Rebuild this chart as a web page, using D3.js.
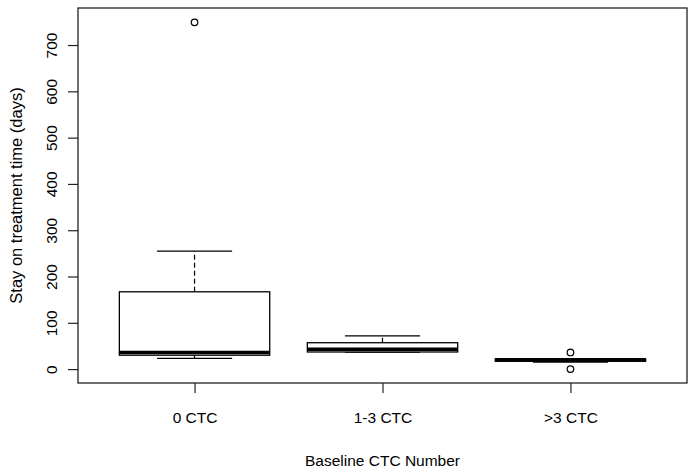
<!DOCTYPE html>
<html>
<head>
<meta charset="utf-8">
<script src="https://cdn.jsdelivr.net/npm/d3@7"></script>
<style>
  html, body { margin: 0; padding: 0; background: #fff; }
  text { font-family: "Liberation Sans", Arial, sans-serif; fill: #000; }
</style>
</head>
<body>
<svg id="chart" width="696" height="473"></svg>
<script>
const categories = ["0 CTC", "1-3 CTC", ">3 CTC"];
const lowerWhisker = [23, 37, 15];
const q1 = [30, 37, 17];
const median = [36, 43, 20];
const q3 = [167, 57, 22];
const upperWhisker = [255, 72, 22];
const outliers = [[749], [], [36, 0]];
const yTicks = [0, 100, 200, 300, 400, 500, 600, 700];
const xTitle = "Baseline CTC Number";
const yTitle = "Stay on treatment time (days)";

const svg = d3.select("#chart");
const pLeft = 78, pRight = 687, pTop = 8, pBottom = 383;

const x = d3.scaleLinear().domain([0.38, 3.62]).range([pLeft, pRight]);
const y = d3.scaleLinear().domain([-30, 780]).range([pBottom, pTop]);

const boxW = x(1.8) - x(1);
const stapleW = boxW / 2;

categories.forEach((c, i) => {
  const cx = x(i + 1);
  const g = svg.append("g");
  g.append("line").attr("x1", cx).attr("x2", cx)
    .attr("y1", y(q3[i])).attr("y2", y(upperWhisker[i]))
    .attr("stroke", "#000").attr("stroke-width", 1.2).attr("stroke-dasharray", "5,3");
  g.append("line").attr("x1", cx).attr("x2", cx)
    .attr("y1", y(q1[i])).attr("y2", y(lowerWhisker[i]))
    .attr("stroke", "#000").attr("stroke-width", 1.2).attr("stroke-dasharray", "5,3");
  [upperWhisker[i], lowerWhisker[i]].forEach(v => {
    g.append("line").attr("x1", cx - stapleW / 2).attr("x2", cx + stapleW / 2)
      .attr("y1", y(v)).attr("y2", y(v))
      .attr("stroke", "#000").attr("stroke-width", 1.3);
  });
  g.append("rect").attr("x", cx - boxW / 2).attr("width", boxW)
    .attr("y", y(q3[i])).attr("height", Math.max(0, y(q1[i]) - y(q3[i])))
    .attr("fill", "#fff").attr("stroke", "#000").attr("stroke-width", 1.3);
  g.append("line").attr("x1", cx - boxW / 2).attr("x2", cx + boxW / 2)
    .attr("y1", y(median[i])).attr("y2", y(median[i]))
    .attr("stroke", "#000").attr("stroke-width", 3.6);
  outliers[i].forEach(v => {
    g.append("circle").attr("cx", cx).attr("cy", y(v)).attr("r", 3.3)
      .attr("fill", "none").attr("stroke", "#000").attr("stroke-width", 1.2);
  });
});

svg.append("rect").attr("x", pLeft).attr("y", pTop).attr("width", pRight - pLeft).attr("height", pBottom - pTop)
  .attr("fill", "none").attr("stroke", "#222").attr("stroke-width", 1.3);

const yAxis = d3.axisLeft(y).tickValues(yTicks).tickSize(10).tickPadding(5).tickFormat(d3.format("d"));
const ya = svg.append("g").attr("transform", `translate(${pLeft},0)`).call(yAxis);
ya.select(".domain").remove();
ya.selectAll(".tick line").attr("stroke", "#222").attr("stroke-width", 1.2);
ya.selectAll(".tick text")
  .attr("font-size", 15.5)
  .attr("x", null).attr("dy", null).attr("y", null)
  .attr("transform", "translate(-21,0) rotate(-90)")
  .attr("text-anchor", "middle");

const xAxis = d3.axisBottom(x).tickValues([1, 2, 3]).tickSize(10).tickPadding(19)
  .tickFormat(d => categories[d - 1]);
const xa = svg.append("g").attr("transform", `translate(0,${pBottom})`).call(xAxis);
xa.select(".domain").remove();
xa.selectAll(".tick line").attr("stroke", "#222").attr("stroke-width", 1.2);
xa.selectAll(".tick text").attr("font-size", 15.5);

svg.append("text").attr("x", x(2)).attr("y", 466).attr("text-anchor", "middle")
  .attr("font-size", 15.5).text(xTitle);
svg.append("text").attr("transform", `translate(22,${(pTop + pBottom) / 2}) rotate(-90)`)
  .attr("text-anchor", "middle").attr("font-size", 16.5).text(yTitle);
</script>
</body>
</html>
